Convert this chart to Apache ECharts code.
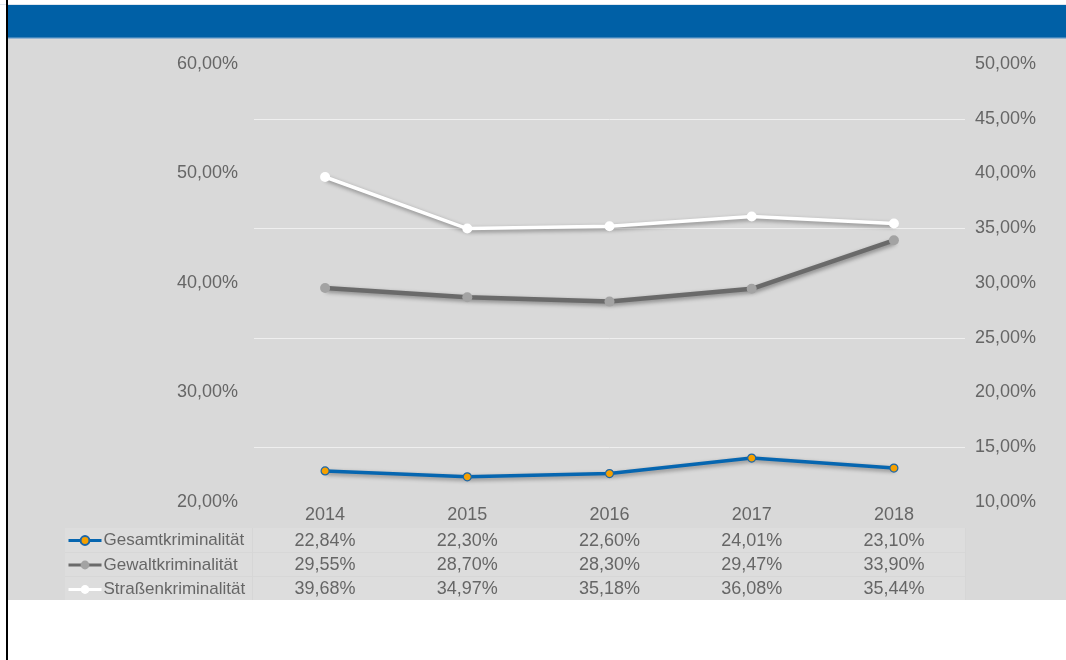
<!DOCTYPE html>
<html>
<head>
<meta charset="utf-8">
<script src="https://cdn.jsdelivr.net/npm/echarts@6/dist/echarts.min.js"></script>
<style>
html,body{margin:0;padding:0;background:#fff;}
#chart{width:1066px;height:660px;}
</style>
</head>
<body>
<div id="chart"></div>
<script>
var years = ['2014', '2015', '2016', '2017', '2018'];
var seriesNames = ['Gesamtkriminalität', 'Gewaltkriminalität', 'Straßenkriminalität'];
var gesamt = [22.84, 22.30, 22.60, 24.01, 23.10];
var gewalt = [29.55, 28.70, 28.30, 29.47, 33.90];
var strassen = [39.68, 34.97, 35.18, 36.08, 35.44];
var leftTicks = [20, 60, 10];   // min, max, interval
var rightTicks = [10, 50, 5];   // min, max, interval

function pct(v) { return Number(v).toFixed(2).replace('.', ',') + '%'; }

var FONT = '"Liberation Sans", Arial, sans-serif';
var TXT = '#666666';
var FS = 18;

var chart = echarts.init(document.getElementById('chart'));

function tableAxis(values, offset) {
  return {
    type: 'category', gridIndex: 0, position: 'bottom', offset: offset,
    data: values.map(pct),
    axisLine: { show: false }, axisTick: { show: false }, splitLine: { show: false },
    axisLabel: { interval: 0, margin: 0, color: TXT, fontFamily: FONT, fontSize: FS }
  };
}

var shadow = { shadowBlur: 4, shadowColor: 'rgba(0,0,0,0.4)', shadowOffsetX: 1, shadowOffsetY: 2 };

var option = {
  backgroundColor: '#ffffff',
  animation: false,
  graphic: [
    { type: 'rect', z: -10, shape: { x: 8, y: 38, width: 1058, height: 562 }, style: { fill: '#d9d9d9' } },
    { type: 'rect', z: -9, shape: { x: 0, y: 4, width: 1066, height: 1 }, style: { fill: '#dfe6ee' } },
    { type: 'rect', z: -9, shape: { x: 8, y: 5, width: 1058, height: 33 }, style: { fill: '#0060a6' } },
    { type: 'rect', z: -9, shape: { x: 8, y: 37.5, width: 1058, height: 1.2 }, style: { fill: '#7fa9cf' } },
    { type: 'rect', z: -9, shape: { x: 65, y: 528, width: 900, height: 72 }, style: { fill: '#dddddd' } },
    { type: 'rect', z: -8, shape: { x: 65, y: 552, width: 900, height: 1 }, style: { fill: '#d7d7d7' } },
    { type: 'rect', z: -8, shape: { x: 65, y: 576, width: 900, height: 1 }, style: { fill: '#d7d7d7' } },
    { type: 'rect', z: -8, shape: { x: 252, y: 528, width: 1, height: 72 }, style: { fill: '#d6d6d6' } },
    { type: 'rect', z: -8, shape: { x: 965, y: 528, width: 1, height: 72 }, style: { fill: '#d6d6d6' } },
    { type: 'rect', z: 50, shape: { x: 6, y: 0, width: 2, height: 660 }, style: { fill: '#000000' } }
  ],
  grid: { left: 254, right: 101, top: 64, bottom: 158, containLabel: false },
  legend: {
    orient: 'vertical', left: 67, top: 532, padding: 0,
    itemWidth: 33, itemHeight: 11, itemGap: 7.5,
    data: seriesNames,
    lineStyle: { width: 3 },
    textStyle: { color: TXT, fontFamily: FONT, fontSize: 17, lineHeight: 14, padding: [0, 0, 0, -3] }
  },
  xAxis: [
    {
      type: 'category', data: years, boundaryGap: true,
      axisLine: { show: false }, axisTick: { show: false }, splitLine: { show: false },
      axisLabel: { interval: 0, margin: 4, color: TXT, fontFamily: FONT, fontSize: FS }
    },
    tableAxis(gesamt, 30),
    tableAxis(gewalt, 54),
    tableAxis(strassen, 78)
  ],
  yAxis: [
    {
      type: 'value', position: 'left', min: leftTicks[0], max: leftTicks[1], interval: leftTicks[2],
      axisLine: { show: false }, axisTick: { show: false }, splitLine: { show: false },
      axisLabel: { margin: 16, color: TXT, fontFamily: FONT, fontSize: FS, formatter: pct }
    },
    {
      type: 'value', position: 'right', min: rightTicks[0], max: rightTicks[1], interval: rightTicks[2],
      axisLine: { show: false }, axisTick: { show: false },
      splitLine: { show: true, lineStyle: { color: ['rgba(0,0,0,0)', '#efefef'], width: 1 } },
      axisLabel: { margin: 10, color: TXT, fontFamily: FONT, fontSize: FS, formatter: pct }
    }
  ],
  series: [
    {
      name: seriesNames[0], type: 'line', xAxisIndex: 0, yAxisIndex: 0, data: gesamt,
      symbol: 'circle', symbolSize: 8, z: 5,
      lineStyle: Object.assign({ color: '#0666b0', width: 3.5 }, shadow),
      itemStyle: { color: '#f5a000', borderColor: '#1a66aa', borderWidth: 1.2 }
    },
    {
      name: seriesNames[1], type: 'line', xAxisIndex: 0, yAxisIndex: 1, data: gewalt,
      symbol: 'circle', symbolSize: 10, z: 3,
      lineStyle: Object.assign({ color: '#6a6a6a', width: 4.5 }, shadow),
      itemStyle: { color: '#a3a3a3', borderColor: '#a3a3a3', borderWidth: 0 }
    },
    {
      name: seriesNames[2], type: 'line', xAxisIndex: 0, yAxisIndex: 1, data: strassen,
      symbol: 'circle', symbolSize: 10, z: 4,
      lineStyle: Object.assign({ color: '#ffffff', width: 3.5 }, shadow),
      itemStyle: { color: '#ffffff', borderColor: '#ffffff', borderWidth: 0 }
    }
  ]
};
chart.setOption(option);
</script>
</body>
</html>
